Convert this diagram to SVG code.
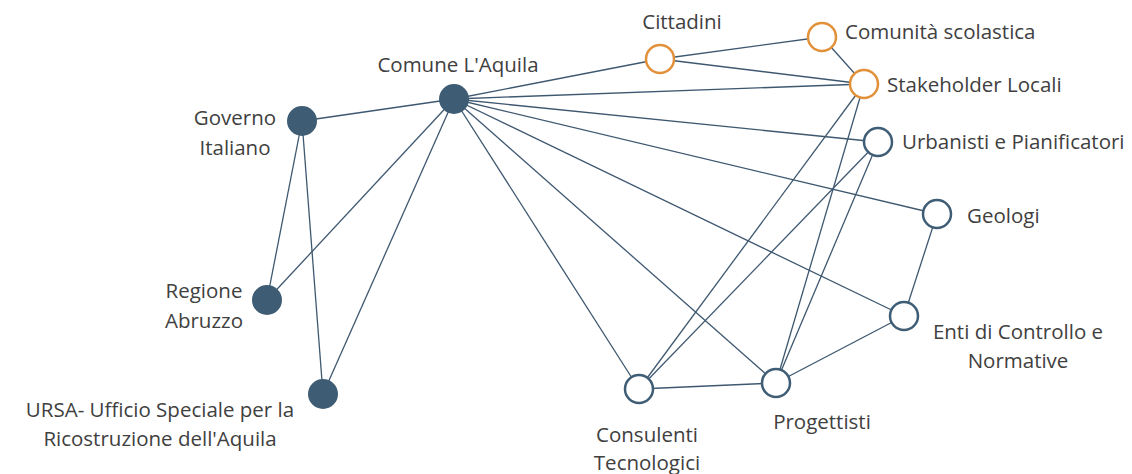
<svg xmlns="http://www.w3.org/2000/svg" width="1132" height="474" viewBox="0 0 1132 474">
<style>
.e{stroke:#3e5870;stroke-width:1.3;fill:none}
.f{fill:#3e5c73}
.o{fill:#fff;stroke:#3f5d75;stroke-width:2.5}
.g{fill:#fff;stroke:#e2913b;stroke-width:2.5}
text{font-family:"Open Sans","Noto Sans",sans-serif;font-size:20.5px;fill:#404040}
.m{text-anchor:middle}
</style>
<rect width="1132" height="474" fill="#fff"/>
<g id="connectors">
<line class="e" x1="302" y1="121" x2="454" y2="99"/>
<line class="e" x1="302" y1="121" x2="267" y2="300"/>
<line class="e" x1="302" y1="121" x2="323" y2="394"/>
<line class="e" x1="454" y1="99" x2="267" y2="300"/>
<line class="e" x1="454" y1="99" x2="323" y2="394"/>
<line class="e" x1="454" y1="99" x2="660" y2="59"/>
<line class="e" x1="454" y1="99" x2="864" y2="84"/>
<line class="e" x1="454" y1="99" x2="878" y2="142"/>
<line class="e" x1="454" y1="99" x2="937" y2="214"/>
<line class="e" x1="454" y1="99" x2="904" y2="316"/>
<line class="e" x1="454" y1="99" x2="776" y2="383"/>
<line class="e" x1="454" y1="99" x2="639" y2="389"/>
<line class="e" x1="660" y1="59" x2="822" y2="37"/>
<line class="e" x1="660" y1="59" x2="864" y2="84"/>
<line class="e" x1="822" y1="37" x2="864" y2="84"/>
<line class="e" x1="864" y1="84" x2="639" y2="389"/>
<line class="e" x1="864" y1="84" x2="776" y2="383"/>
<line class="e" x1="878" y1="142" x2="639" y2="389"/>
<line class="e" x1="878" y1="142" x2="776" y2="383"/>
<line class="e" x1="937" y1="214" x2="904" y2="316"/>
<line class="e" x1="904" y1="316" x2="776" y2="383"/>
<line class="e" x1="639" y1="389" x2="776" y2="383"/>
</g>
<g id="comune"><circle class="f" cx="454" cy="99" r="15"/><text class="m" x="458" y="72">Comune L'Aquila</text></g>
<g id="governo"><circle class="f" cx="302" cy="121" r="15"/><text class="m" x="235" y="125">Governo</text><text class="m" x="235" y="155">Italiano</text></g>
<g id="regione"><circle class="f" cx="267" cy="300" r="15"/><text class="m" x="204" y="298">Regione</text><text class="m" x="204" y="328">Abruzzo</text></g>
<g id="ursa"><circle class="f" cx="323" cy="394" r="15"/><text class="m" x="160" y="417">URSA- Ufficio Speciale per la</text><text class="m" x="160" y="446">Ricostruzione dell'Aquila</text></g>
<g id="cittadini"><circle class="g" cx="660" cy="59" r="14"/><text class="m" x="682" y="29">Cittadini</text></g>
<g id="comunita"><circle class="g" cx="822" cy="37" r="14"/><text x="845" y="39">Comunità scolastica</text></g>
<g id="stakeholder"><circle class="g" cx="864" cy="84" r="14"/><text x="887" y="92">Stakeholder Locali</text></g>
<g id="urbanisti"><circle class="o" cx="878" cy="142" r="14"/><text x="902" y="149">Urbanisti e Pianificatori</text></g>
<g id="geologi"><circle class="o" cx="937" cy="214" r="14"/><text x="967" y="223">Geologi</text></g>
<g id="enti"><circle class="o" cx="904" cy="316" r="14"/><text class="m" x="1018" y="339">Enti di Controllo e</text><text class="m" x="1018" y="368">Normative</text></g>
<g id="progettisti"><circle class="o" cx="776" cy="383" r="14"/><text class="m" x="822" y="429">Progettisti</text></g>
<g id="consulenti"><circle class="o" cx="639" cy="389" r="14"/><text class="m" x="647" y="442">Consulenti</text><text class="m" x="647" y="470">Tecnologici</text></g>
</svg>
